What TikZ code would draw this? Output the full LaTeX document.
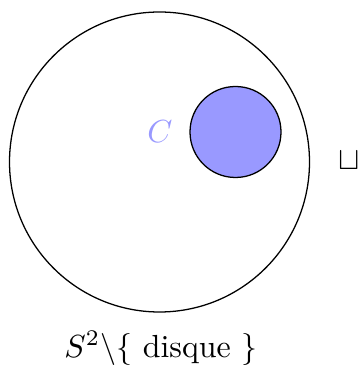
\documentclass[tikz,border=0pt]{standalone}
\usepackage{amsmath}
\begin{document}
\begin{tikzpicture}[
    x=0.011cm, y=0.011cm,
    sphere/.style={draw, circle, minimum size=300*0.011cm, inner sep=0pt},
    disc/.style={draw, circle, fill=blue!40, minimum size=91*0.011cm, inner sep=0pt},
    lbl/.style={font=\normalsize}
  ]
    \useasboundingbox (0,0) rectangle (360,368);

    \node[sphere] (s2) at (159.5,206) {};
    \node[disc] (c) at (235.5,236) {};
    \node[lbl, text=blue!40] (clabel) at (160,236) {$C$};

    \node[lbl] (sqcup) at (349,207) {$\sqcup$};
    \node[lbl] (caption) at (161,20) {$S^2\backslash\{\text{ disque }\}$};
  \end{tikzpicture}
\end{document}
